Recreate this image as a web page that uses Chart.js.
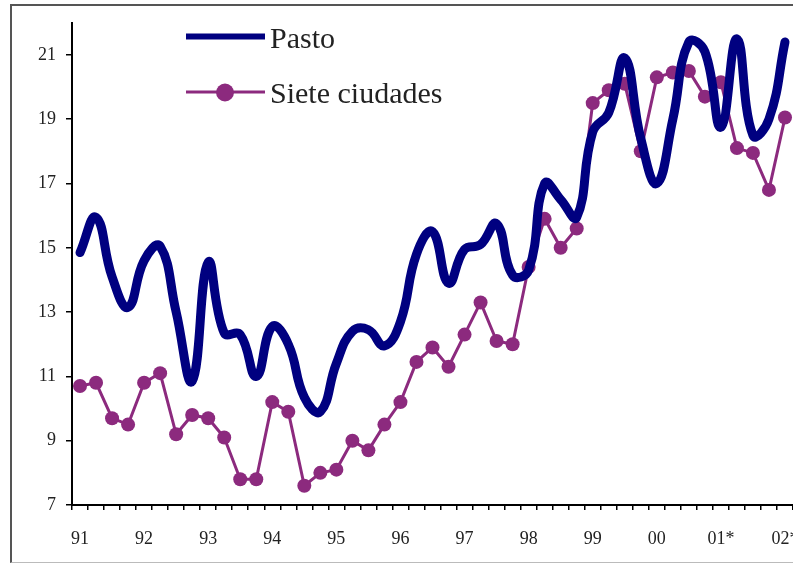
<!DOCTYPE html>
<html>
<head>
<meta charset="utf-8">
<script src="https://cdn.jsdelivr.net/npm/chart.js@4"></script>
<style>
  html, body { margin: 0; padding: 0; background: #fff; overflow: hidden; width: 793px; height: 563px; }
  #marco { position: absolute; left: 10px; top: 4px; width: 900px; height: 556px;
           border-left: 2px solid #555; border-top: 2px solid #555; border-bottom: 1px solid #bbb; }
  #grafica { position: absolute; left: 0; top: 0; }
</style>
</head>
<body>
<div id="marco"></div>
<canvas id="grafica" width="800" height="563"></canvas>
<script>
// trimestres 1991-I a 2002-I
const anios = ['91', '92', '93', '94', '95', '96', '97', '98', '99', '00', '01*', '02*'];
const trimestres = [];
anios.forEach(a => ['I', 'II', 'III', 'IV'].forEach(t => trimestres.push(a + ' ' + t)));
trimestres.length = 45;

const pasto = [14.85, 15.95, 14.1, 13.15, 14.6, 15.05, 13.0, 10.85, 14.55, 12.35,
               12.3, 11.0, 12.55, 12.0, 10.35, 9.9, 11.4, 12.4, 12.45, 11.95,
               12.7, 14.8, 15.5, 13.9, 14.95, 15.1, 15.75, 14.15, 14.3, 17.0,
               16.5, 15.95, 18.6, 19.2, 20.9, 18.4, 17.0, 19.0, 21.4, 21.1,
               18.75, 21.5, 18.5, 19.0, 21.4];

const sieteCiudades = [10.7, 10.8, 9.7, 9.5, 10.8, 11.1, 9.2, 9.8, 9.7, 9.1,
                       7.8, 7.8, 10.2, 9.9, 7.6, 8.0, 8.1, 9.0, 8.7, 9.5,
                       10.2, 11.45, 11.9, 11.3, 12.3, 13.3, 12.1, 12.0, 14.4, 15.9,
                       15.0, 15.6, 19.5, 19.9, 20.1, 18.0, 20.3, 20.45, 20.5, 19.7,
                       20.15, 18.1, 17.95, 16.8, 19.05];

const ticksY = [7, 9, 11, 13, 15, 17, 19, 21];

Chart.defaults.font.family = '"Liberation Serif", "Times New Roman", serif';
Chart.defaults.color = '#222';

// leyenda dentro del área, como en el original
const leyenda = {
    id: 'leyenda',
    afterDraw(chart) {
        const ctx = chart.ctx;
        const ds = chart.data.datasets;
        ctx.save();
        ctx.font = '30px "Liberation Serif", serif';
        ctx.fillStyle = '#222';
        ctx.textBaseline = 'alphabetic';

        ctx.strokeStyle = ds[0].borderColor;
        ctx.lineWidth = 6;
        ctx.beginPath();
        ctx.moveTo(186, 36.5);
        ctx.lineTo(265, 36.5);
        ctx.stroke();
        ctx.fillText(ds[0].label, 270, 48);

        ctx.strokeStyle = ds[1].borderColor;
        ctx.lineWidth = 3;
        ctx.beginPath();
        ctx.moveTo(186, 92);
        ctx.lineTo(265, 92);
        ctx.stroke();
        ctx.fillStyle = ds[1].pointBackgroundColor;
        ctx.beginPath();
        ctx.arc(225, 92.5, 9, 0, Math.PI * 2);
        ctx.fill();
        ctx.fillStyle = '#222';
        ctx.fillText(ds[1].label, 270, 103);
        ctx.restore();
    }
};

const ctx = document.getElementById('grafica').getContext('2d');
const myChart = new Chart(ctx, {
    type: 'line',
    data: {
        labels: trimestres,
        datasets: [{
            label: 'Pasto',
            data: pasto,
            borderColor: '#000080',
            borderWidth: 9,
            pointRadius: 0,
            tension: 0.45,
            borderCapStyle: 'round',
            borderJoinStyle: 'round'
        }, {
            label: 'Siete ciudades',
            data: sieteCiudades,
            borderColor: '#8c2a7e',
            borderWidth: 3,
            pointRadius: 7,
            pointBackgroundColor: '#8c2a7e',
            pointBorderColor: '#8c2a7e',
            pointBorderWidth: 0,
            tension: 0
        }]
    },
    options: {
        responsive: false,
        animation: false,
        layout: { padding: { top: 22.7, right: 3.5, left: 0, bottom: 0 } },
        scales: {
            x: {
                type: 'category',
                offset: true,
                grid: {
                    offset: true,
                    drawOnChartArea: false,
                    drawTicks: true,
                    tickLength: 5,
                    color: '#000',
                    lineWidth: 1.5
                },
                border: { display: true, color: '#000', width: 2 },
                ticks: {
                    autoSkip: false,
                    maxRotation: 0,
                    padding: 18,
                    font: { size: 18 },
                    callback: (v, i) => i % 4 === 0 ? anios[i / 4] : ''
                },
                afterFit: s => {
                    s.height = 58;
                    s.paddingLeft = 0;
                    s.paddingRight = 0;
                }
            },
            y: {
                min: 7,
                max: 22,
                grid: {
                    drawOnChartArea: false,
                    drawTicks: true,
                    tickLength: 6,
                    color: '#000',
                    lineWidth: 1.5
                },
                border: { display: true, color: '#000', width: 2 },
                ticks: {
                    padding: 10,
                    font: { size: 18 }
                },
                afterBuildTicks: s => { s.ticks = ticksY.map(v => ({ value: v })); },
                afterFit: s => { s.width = 72; }
            }
        },
        plugins: {
            legend: { display: false },
            tooltip: { enabled: false }
        }
    },
    plugins: [leyenda]
});
</script>
</body>
</html>
